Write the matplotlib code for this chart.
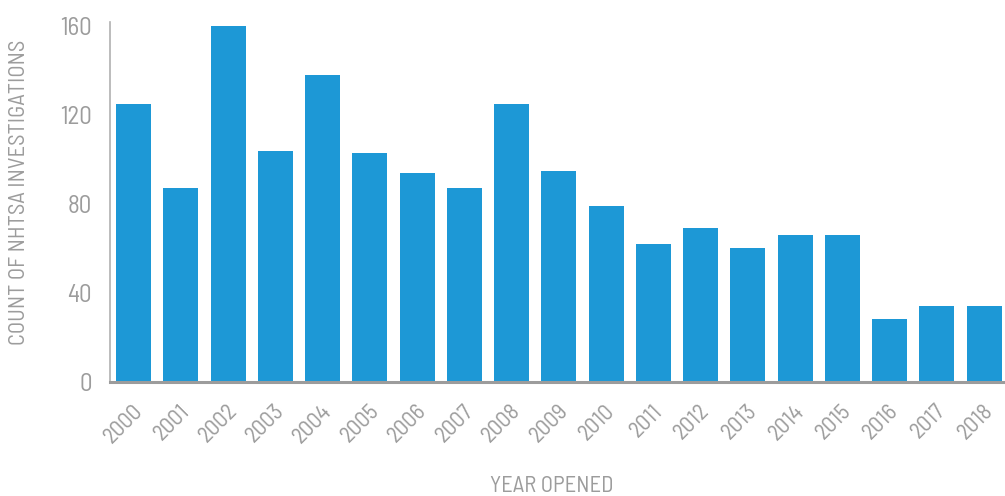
import matplotlib.pyplot as plt
from matplotlib.transforms import ScaledTranslation

years = ['2000', '2001', '2002', '2003', '2004', '2005', '2006', '2007', '2008', '2009',
         '2010', '2011', '2012', '2013', '2014', '2015', '2016', '2017', '2018']
counts = [125, 87, 160, 104, 138, 103, 94, 87, 125, 95,
          79, 62, 69, 60, 66, 66, 28, 34, 34]
y_ticks = [0, 40, 80, 120, 160]

plt.rcParams['font.family'] = ['Barlow Semi Condensed', 'DejaVu Sans']

grey = '#9c9c9c'
blue = '#1d98d6'

fig = plt.figure(figsize=(10.05, 4.96), dpi=100)
ax = fig.add_axes([0.1095, 0.2304, 0.8885, 0.7252])

x = range(len(years))
ax.bar(x, counts, width=0.74, color=blue, zorder=2)

ax.set_xlim(-0.5, 18.4)
ax.set_ylim(0, 161.8)
ax.set_yticks(y_ticks)
ax.set_yticklabels([str(v) for v in y_ticks])
ax.set_xticks(list(x))
ax.set_xticklabels(years, rotation=45, ha='right', va='center', rotation_mode='anchor')

ax.tick_params(axis='y', length=0, pad=13, labelsize=18, labelcolor=grey)
ax.tick_params(axis='x', length=0, pad=19, labelsize=16.5, labelcolor=grey)

# nudge the year labels a little to the right of the bar centres
shift = ScaledTranslation(6 / 100, 0, fig.dpi_scale_trans)
for lab in ax.get_xticklabels():
    lab.set_transform(lab.get_transform() + shift)

for s in ['top', 'right']:
    ax.spines[s].set_visible(False)
ax.spines['left'].set_color('#b0b0b0')
ax.spines['left'].set_linewidth(1.2)
ax.spines['bottom'].set_color(grey)
ax.spines['bottom'].set_linewidth(2.2)
ax.spines['bottom'].set_zorder(3)

fig.text(20 / 1005, 1 - 192 / 496, 'COUNT OF NHTSA INVESTIGATIONS', fontsize=16.3, color=grey,
         rotation=90, ha='center', va='center')
fig.text(552 / 1005, 1 - 487 / 496, 'YEAR OPENED', fontsize=16.3, color=grey,
         ha='center', va='center')

fig.savefig('out.png', dpi=100)
